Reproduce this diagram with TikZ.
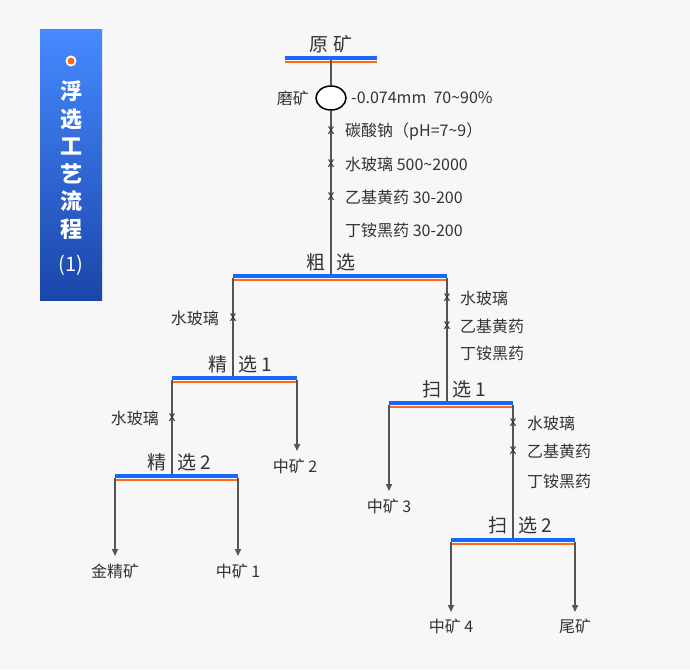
\documentclass[tikz,border=0pt]{standalone}
\usepackage{fontspec}
\setmainfont{Noto Sans CJK SC}
\usetikzlibrary{arrows.meta,shapes.geometric}
\definecolor{bgc}{HTML}{F7F7F9}
\definecolor{barblue}{HTML}{1A66FF}
\definecolor{barorange}{HTML}{FF6A1A}
\definecolor{flow}{HTML}{555555}
\definecolor{txt}{HTML}{333333}
\newcommand{\stagebar}[3]{% left x, right x, y
  \draw[barblue, line width=3.2pt] (#1,#3) -- (#2,#3);
  \draw[barorange, line width=2pt] (#1,#3+4) -- (#2,#3+4);
}
\begin{document}
\begin{tikzpicture}[x=1pt, y=-1pt, font=\fontsize{16}{18}\selectfont, text=txt,
  flowline/.style={flow, line width=1.5pt},
  arr/.style={flowline, -{Triangle[length=7pt, width=6pt]}},
  xmark/.style={inner sep=0pt, font=\fontsize{14}{14}\selectfont},
  lbl/.style={inner sep=1pt, anchor=west},
  rlbl/.style={inner sep=1pt, anchor=east},
  stage/.style={inner sep=1pt, font=\fontsize{19}{20}\selectfont}]

	\fill[bgc] (0,0) rectangle (690,669);
	\useasboundingbox (0,0) rectangle (690,669);

	% title box
	\shade[top color={rgb,255:red,70;green,138;blue,255}, bottom color={rgb,255:red,26;green,70;blue,170}] (40,30) rectangle (102,300);
	\fill[white] (71,61) circle (5.5pt);
	\fill[barorange] (71,61) circle (3.5pt);
	\node[text=white, font=\fontsize{22}{27.5}\bfseries\selectfont, align=center] (title) at (71,160) {浮\\选\\工\\艺\\流\\程};
	\node[text=white, font=\fontsize{20}{20}\selectfont] (titlenum) at (71,265) {(1)};

	% raw ore
	\node[stage] (yuan) at (331,44) {原 矿};
	\stagebar{285}{377}{58}
	\node[draw=black, line width=1.5pt, ellipse, minimum width=30pt, minimum height=24pt, inner sep=0pt, fill=white] (mo) at (331,98) {};
	\node[rlbl] at (310,98) {磨矿};
	\node[lbl] at (350,98) {-0.074mm\ \ 70\textasciitilde 90\%};
	\coordinate (yuanb) at (331,60);
	\coordinate (cub) at (331,275);
	\draw[flowline] (yuanb) -- (mo.north);
	\draw[flowline] (mo.south) -- (cub);
	\foreach \yy in {131,164,197} \node[xmark] at (331,\yy) {x};
	\node[lbl] at (344,131) {碳酸钠（pH=7\textasciitilde 9）};
	\node[lbl] at (344,164) {水玻璃 500\textasciitilde 2000};
	\node[lbl] at (344,197) {乙基黄药 30-200};
	\node[lbl] at (344,230) {丁铵黑药 30-200};

	% rougher
	\node[stage] (cu) at (331,262) {粗\hspace{12pt}选};
	\stagebar{233}{447}{276}
	\coordinate (cuL) at (233,278);
	\coordinate (cuR) at (447,278);
	\coordinate (jing1t) at (233,377);
	\coordinate (sao1t) at (447,402);
	\draw[flowline] (cuL) -- (jing1t);
	\draw[flowline] (cuR) -- (sao1t);
	\node[xmark] at (233,318) {x};
	\node[rlbl] at (220,318) {水玻璃};
	\node[xmark] at (447,298) {x};
	\node[xmark] at (447,326) {x};
	\node[lbl] at (459,298) {水玻璃};
	\node[lbl] at (459,326) {乙基黄药};
	\node[lbl] at (459,353) {丁铵黑药};

	% cleaner 1
	\node[stage, anchor=east] (jing1a) at (229,364) {精};
	\node[stage, anchor=west] (jing1b) at (237,364) {选 1};
	\stagebar{172}{297}{378}
	\coordinate (j1L) at (172,380);
	\coordinate (j1R) at (297,380);
	\coordinate (zk2t) at (297,451);
	\node (zk2) at (295,466) {中矿 2};
	\coordinate (jing2t) at (172,475);
	\draw[flowline] (j1L) -- (jing2t);
	\draw[arr] (j1R) -- (zk2t);
	\node[xmark] at (172,418) {x};
	\node[rlbl] at (160,418) {水玻璃};

	% cleaner 2
	\node[stage, anchor=east] (jing2a) at (168,462) {精};
	\node[stage, anchor=west] (jing2b) at (176,462) {选 2};
	\stagebar{115}{238}{476}
	\coordinate (j2L) at (115,478);
	\coordinate (j2R) at (238,478);
	\coordinate (jjkt) at (115,556);
	\coordinate (zk1t) at (238,556);
	\node (jjk) at (115,571) {金精矿};
	\node (zk1) at (238,571) {中矿 1};
	\draw[arr] (j2L) -- (jjkt);
	\draw[arr] (j2R) -- (zk1t);

	% scavenger 1
	\node[stage, anchor=east] (sao1a) at (443,389) {扫};
	\node[stage, anchor=west] (sao1b) at (451,389) {选 1};
	\stagebar{389}{513}{403}
	\coordinate (s1L) at (389,405);
	\coordinate (s1R) at (513,405);
	\coordinate (zk3t) at (389,491);
	\node (zk3) at (389,506) {中矿 3};
	\coordinate (sao2t) at (513,539);
	\draw[arr] (s1L) -- (zk3t);
	\draw[flowline] (s1R) -- (sao2t);
	\node[xmark] at (513,423) {x};
	\node[xmark] at (513,451) {x};
	\node[lbl] at (526,423) {水玻璃};
	\node[lbl] at (526,451) {乙基黄药};
	\node[lbl] at (526,481) {丁铵黑药};

	% scavenger 2
	\node[stage, anchor=east] (sao2a) at (509,525) {扫};
	\node[stage, anchor=west] (sao2b) at (517,525) {选 2};
	\stagebar{451}{575}{540}
	\coordinate (s2L) at (451,542);
	\coordinate (s2R) at (575,542);
	\coordinate (zk4t) at (451,612);
	\coordinate (wkt) at (575,612);
	\node (zk4) at (451,626) {中矿 4};
	\node (wk) at (575,626) {尾矿};
	\draw[arr] (s2L) -- (zk4t);
	\draw[arr] (s2R) -- (wkt);

\end{tikzpicture}
\end{document}
